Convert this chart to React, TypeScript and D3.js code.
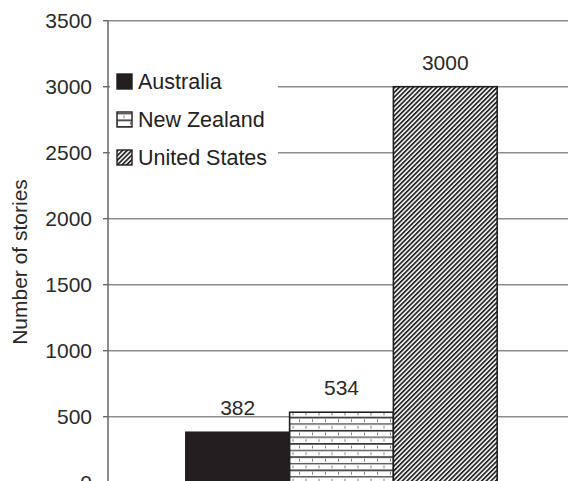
import React from "react";
import * as d3 from "d3";

// Number of stories by country
const countries: string[] = ["Australia", "New Zealand", "United States"];
const stories: number[] = [382, 534, 3000];
const yTicks: number[] = [0, 500, 1000, 1500, 2000, 2500, 3000, 3500];

const W = 568;
const H = 481;
const plot = { left: 108, right: 575, top: 20.7, bottom: 482.7 };
const FONT = "'Liberation Sans', Arial, Helvetica, sans-serif";
const INK = "#231f20";

export default function App() {
  const y = d3.scaleLinear().domain([0, 3500]).range([plot.bottom, plot.top]);
  const group = d3
    .scaleBand<string>()
    .domain(["all"])
    .range([plot.left, plot.right])
    .paddingInner(0)
    .paddingOuter(0.25);
  const x = d3
    .scaleBand<string>()
    .domain(countries)
    .range([group("all")!, group("all")! + group.bandwidth()]);

  const fills = ["url(#solid)", "url(#hlines)", "url(#diag)"];

  return (
    <svg
      width={W}
      height={H}
      style={{ position: "absolute", left: 0, top: 0, background: "#fff" }}
      fontFamily={FONT}
    >
      <defs>
        <pattern id="solid" width="4" height="4" patternUnits="userSpaceOnUse">
          <rect width="4" height="4" fill={INK} />
        </pattern>
        <pattern id="hlines" width="13" height="13.2" patternUnits="userSpaceOnUse" y={plot.bottom}>
          <rect width="13" height="13.2" fill="#fff" />
          <rect y="0" width="13" height="1.6" fill="#2a2a2a" />
          <rect y="6.6" width="13" height="1.4" fill="#555" />
          <rect x="0" y="2.6" width="1" height="2.6" fill="#777" />
          <rect x="6.5" y="9.3" width="1" height="2.6" fill="#777" />
        </pattern>
        <pattern
          id="diag"
          width="3.3"
          height="10"
          patternUnits="userSpaceOnUse"
          patternTransform="rotate(45)"
        >
          <rect width="3.3" height="10" fill="#fff" />
          <rect width="1.8" height="10" fill="#2a2a2a" />
        </pattern>
      </defs>

      {/* gridlines */}
      {yTicks.map((t) => (
        <line
          key={"g" + t}
          x1={plot.left}
          x2={plot.right}
          y1={y(t)}
          y2={y(t)}
          stroke="#8c8c8c"
          strokeWidth={1.4}
        />
      ))}

      {/* bars */}
      {countries.map((c, i) => (
        <rect
          key={c}
          x={x(c)}
          y={y(stories[i])}
          width={x.bandwidth()}
          height={plot.bottom - y(stories[i])}
          fill={fills[i]}
          stroke={INK}
          strokeWidth={1.6}
        />
      ))}

      {/* value labels */}
      {countries.map((c, i) => (
        <text
          key={"v" + c}
          x={x(c)! + x.bandwidth() / 2}
          y={y(stories[i]) - 17}
          textAnchor="middle"
          fontSize={21}
          fill="#2a2a2a"
        >
          {stories[i]}
        </text>
      ))}

      {/* y axis */}
      <line x1={plot.left} x2={plot.left} y1={plot.top} y2={plot.bottom} stroke="#666" strokeWidth={1.5} />
      {yTicks.map((t) => (
        <g key={"t" + t}>
          <line x1={plot.left - 5} x2={plot.left} y1={y(t)} y2={y(t)} stroke="#666" strokeWidth={1.4} />
          <text x={92} y={y(t)} dy="0.36em" textAnchor="end" fontSize={21} fill="#2a2a2a">
            {t}
          </text>
        </g>
      ))}
      <text
        transform="translate(19,262) rotate(-90)"
        textAnchor="middle"
        dy="0.36em"
        fontSize={21}
        fill="#2a2a2a"
      >
        Number of stories
      </text>

      {/* legend */}
      <g transform="translate(110,62)">
        <rect x={0} y={0} width={168} height={114} fill="#fff" />
        {countries.map((c, i) => (
          <g key={"l" + c} transform={`translate(7,${12 + i * 38})`}>
            <rect width={15} height={15} fill={fills[i]} stroke={INK} strokeWidth={1.4} />
            <text x={21} y={7.5} dy="0.36em" fontSize={21.5} fill="#222">
              {c}
            </text>
          </g>
        ))}
      </g>
    </svg>
  );
}
